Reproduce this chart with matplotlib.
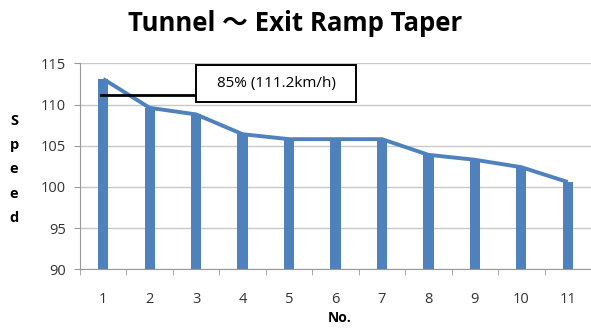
import matplotlib
matplotlib.use("Agg")
import matplotlib.pyplot as plt
from matplotlib.patches import Rectangle
import numpy as np

# Average speed per measurement point
points = ["1", "2", "3", "4", "5", "6", "7", "8", "9", "10", "11"]
speeds = [113.1, 109.6, 108.8, 106.4, 105.8, 105.8, 105.8, 103.9, 103.3, 102.4, 100.6]
p85_speed = 111.2
p85_label = "85% (111.2km/h)"
y_ticks = [90, 95, 100, 105, 110, 115]

blue = "#4f81bd"
fam = ["Open Sans", "Noto Sans CJK JP", "DejaVu Sans"]

fig = plt.figure(figsize=(5.91, 3.29), dpi=100)
ax = fig.add_axes([0.1354, 0.181, 0.8646, 0.6266])

x = np.arange(1, len(points) + 1)
ax.bar(x, np.array(speeds) - 90, bottom=90, width=0.22, color=blue, zorder=2)
ax.plot(x, speeds, color=blue, lw=2.8, zorder=3, solid_capstyle="butt")

# 85th percentile marker line and callout
ax.plot([x[0] - 0.05, 3.0], [p85_speed, p85_speed], color="black", lw=2.0, zorder=4)
ax.add_patch(Rectangle((3.0, 110.3), 3.44, 4.5, fc="white", ec="black", lw=1.4,
                       zorder=5, clip_on=False))
ax.text(4.72, 112.5, p85_label, ha="center", va="center", fontsize=11,
        family=fam, zorder=6)

ax.set_xlim(0.5, 11.5)
ax.set_ylim(90, 115)
ax.set_yticks(y_ticks)
ax.set_xticks(x)
ax.set_xticklabels(points, family=fam, fontsize=10.5, color="#333333")
ax.set_yticklabels([str(v) for v in y_ticks], family=fam, fontsize=10.5, color="#333333")
ax.set_xticks(np.arange(0.5, 12.0, 1.0), minor=True)
ax.tick_params(axis="x", which="major", length=0, pad=16)
ax.tick_params(axis="x", which="minor", length=4, color="#999999")
ax.tick_params(axis="y", length=4, color="#999999", pad=6)

ax.grid(axis="y", color="#c8c8c8", lw=1.0, zorder=0)
for s in ["top", "right"]:
    ax.spines[s].set_visible(False)
ax.spines["left"].set_color("#999999")
ax.spines["bottom"].set_color("#999999")

fig.text(0.5, 0.928, "Tunnel ～ Exit Ramp Taper", ha="center", va="center",
         fontsize=18.5, fontweight="bold", family=fam)
fig.text(0.575, 0.033, "No.", ha="center", va="center", fontsize=10,
         fontweight="bold", family=fam)
fig.text(0.024, 0.485, "S\np\ne\ne\nd", ha="center", va="center", fontsize=10.5,
         fontweight="bold", family=fam, linespacing=1.95)

fig.savefig("out.png", dpi=100)
